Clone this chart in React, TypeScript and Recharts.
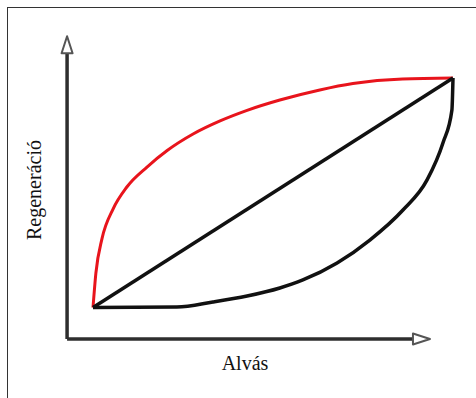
import { LineChart, Line, XAxis, YAxis, ReferenceLine } from "recharts";

// sleep (x) vs regeneration (y), 0..100 on both
const redCurve = [
  { x: 0, y: 0 },
  { x: 0.8, y: 15 },
  { x: 2.5, y: 30 },
  { x: 5.6, y: 43 },
  { x: 9.4, y: 52.5 },
  { x: 15, y: 61.2 },
  { x: 20.6, y: 68.4 },
  { x: 27.8, y: 75.6 },
  { x: 35.3, y: 81.3 },
  { x: 42.8, y: 85.9 },
  { x: 51.9, y: 90.4 },
  { x: 63, y: 94.8 },
  { x: 72.2, y: 97.6 },
  { x: 86, y: 99.6 },
  { x: 100, y: 100 },
];

const diagonal = [
  { x: 0, y: 0 },
  { x: 100, y: 100 },
];

const blackCurve = [
  { x: 0, y: 0 },
  { x: 23.3, y: 0.2 },
  { x: 33.3, y: 2.4 },
  { x: 42.8, y: 5 },
  { x: 51.9, y: 8.5 },
  { x: 58.3, y: 12 },
  { x: 67.8, y: 19.4 },
  { x: 76.9, y: 29.4 },
  { x: 86.1, y: 42.5 },
  { x: 92.8, y: 55.6 },
  { x: 97.2, y: 71.7 },
  { x: 99.7, y: 86.1 },
  { x: 100, y: 100 },
];

// where the drawn axes sit, in data units
const axisOrigin = { x: -7.2, y: -13.7 };
const xAxisEnd = 93.6;
const yAxisEnd = 118.2;

const xLabel = "Alvás";
const yLabel = "Regeneráció";

const AXIS = "#2e2e2e";

const ArrowAxis = (p: any) => {
  const { x1, y1, x2, y2 } = p;
  const len = 17;
  const half = 5.5;
  const dx = x2 - x1;
  const dy = y2 - y1;
  const d = Math.sqrt(dx * dx + dy * dy) || 1;
  const ux = dx / d;
  const uy = dy / d;
  const bx = x2 - ux * len;
  const by = y2 - uy * len;
  const px = -uy * half;
  const py = ux * half;
  return (
    <g>
      <line x1={x1} y1={y1} x2={bx} y2={by} stroke={AXIS} strokeWidth={3.5} />
      <polygon
        points={`${x2},${y2} ${bx + px},${by + py} ${bx - px},${by - py}`}
        fill="#fff"
        stroke="#555"
        strokeWidth={2}
        strokeLinejoin="round"
      />
    </g>
  );
};

export default function App() {
  return (
    <div style={{ position: "absolute", left: 0, top: 0, width: 476, height: 398, background: "#fff" }}>
      <div
        style={{
          position: "absolute",
          left: 7,
          top: 7,
          right: 0,
          bottom: 0,
          borderTop: "1.5px solid #333",
          borderLeft: "1.5px solid #333",
        }}
      />
      <div style={{ position: "absolute", left: 0, top: 0 }}>
        <LineChart width={476} height={398} margin={{ top: 78, right: 23, bottom: 90.5, left: 93 }}>
          <XAxis type="number" dataKey="x" domain={[0, 100]} hide />
          <YAxis type="number" dataKey="y" domain={[0, 100]} hide />
          <ReferenceLine
            segment={[axisOrigin, { x: axisOrigin.x, y: yAxisEnd }]}
            ifOverflow="visible"
            shape={ArrowAxis}
          />
          <ReferenceLine
            segment={[axisOrigin, { x: xAxisEnd, y: axisOrigin.y }]}
            ifOverflow="visible"
            shape={ArrowAxis}
          />
          <Line
            data={redCurve}
            dataKey="y"
            type="monotone"
            stroke="#e8141c"
            strokeWidth={3}
            dot={false}
            isAnimationActive={false}
          />
          <Line
            data={blackCurve}
            dataKey="y"
            type="monotone"
            stroke="#111"
            strokeWidth={3.5}
            dot={false}
            isAnimationActive={false}
          />
          <Line
            data={diagonal}
            dataKey="y"
            type="linear"
            stroke="#111"
            strokeWidth={3.5}
            dot={false}
            isAnimationActive={false}
          />
        </LineChart>
      </div>
      <div
        style={{
          position: "absolute",
          left: 145,
          width: 200,
          top: 352,
          textAlign: "center",
          fontFamily: "'Liberation Serif', serif",
          fontSize: 20,
          color: "#111",
        }}
      >
        {xLabel}
      </div>
      <div
        style={{
          position: "absolute",
          left: 34,
          top: 190,
          transform: "translate(-50%, -50%) rotate(-90deg)",
          whiteSpace: "nowrap",
          fontFamily: "'Liberation Serif', serif",
          fontSize: 20,
          color: "#111",
        }}
      >
        {yLabel}
      </div>
    </div>
  );
}
